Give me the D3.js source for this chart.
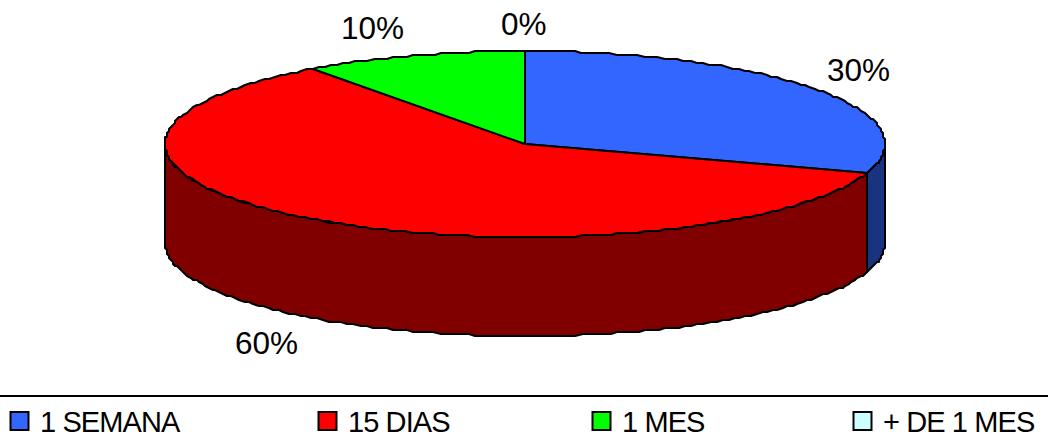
<!DOCTYPE html>
<html>
<head>
<meta charset="utf-8">
<script src="https://cdn.jsdelivr.net/npm/d3@7/dist/d3.min.js"></script>
<style>
html,body{margin:0;padding:0;background:#fff;overflow:hidden}
text{font-family:"Liberation Sans",Arial,sans-serif;fill:#000}
</style>
</head>
<body>
<svg id="chart" width="1048" height="434"></svg>
<script>
const categories = ["1 SEMANA", "15 DIAS", "1 MES", "+ DE 1 MES"];
const shares = [30, 60, 10, 0];
const topColors = ["#3366ff", "#ff0000", "#00ff00", "#ccffff"];
const sideColors = ["#1a3380", "#800000", "#008000", "#668080"];
const legendSwatchX = [10, 318, 592, 853];
const labelAnchors = [[827, 81], [235, 354], [341, 39], [501, 35]];

const cx = 525, cy = 144, rx = 360, ry = 93, depth = 99;
const svg = d3.select("#chart");

const pie = d3.pie().value(d => d).sort(null);
const arcs = pie(shares);

// Tilted disc: angle 0 is at twelve o'clock and grows clockwise.
const px = a => cx + rx * Math.sin(a);
const py = a => cy - ry * Math.cos(a);
const snap = v => Math.round((v - 1) / 2) * 2 + 1;

// Points along the rim, snapped to a coarse grid for the stepped edge of the plot.
function rim(a0, a1) {
  const n = Math.max(1, Math.ceil(Math.abs(a1 - a0) / 0.02));
  return d3.range(n + 1).map(i => {
    const a = a0 + (a1 - a0) * i / n;
    return [snap(px(a)), snap(py(a))];
  });
}
const line = d3.line();
const HALF = Math.PI / 2;

// Side wall: only the front half of the disc, from 90deg round to 270deg.
const walls = arcs.map((d, i) => {
  const a0 = Math.max(d.startAngle, HALF), a1 = Math.min(d.endAngle, 3 * HALF);
  if (a1 <= a0) return null;
  const upper = rim(a0, a1);
  const lower = upper.slice().reverse().map(p => [p[0], p[1] + depth]);
  return {i, points: upper.concat(lower)};
}).filter(Boolean);

svg.append("g").selectAll("path").data(walls).join("path")
  .attr("d", d => line(d.points) + "Z")
  .attr("fill", d => sideColors[d.i])
  .attr("stroke", "#000").attr("stroke-width", 2).attr("stroke-linejoin", "round");

svg.append("g").selectAll("path").data(arcs).join("path")
  .attr("d", d => line([[cx, cy]].concat(rim(d.startAngle, d.endAngle))) + "Z")
  .attr("fill", (d, i) => topColors[i])
  .attr("stroke", "#000").attr("stroke-width", 2).attr("stroke-linejoin", "round");

svg.append("g").selectAll("text").data(shares).join("text")
  .attr("x", (d, i) => labelAnchors[i][0])
  .attr("y", (d, i) => labelAnchors[i][1])
  .attr("font-size", 31.5)
  .text(d => d + "%");

// Legend strip
svg.append("line").attr("x1", 0).attr("x2", 1048).attr("y1", 396).attr("y2", 396)
  .attr("stroke", "#000").attr("stroke-width", 2);

const legend = svg.append("g").selectAll("g").data(categories).join("g")
  .attr("transform", (d, i) => `translate(${legendSwatchX[i]},0)`);
legend.append("rect")
  .attr("x", 0.5).attr("y", 412).attr("width", 18).attr("height", 18)
  .attr("fill", (d, i) => topColors[i])
  .attr("stroke", "#000").attr("stroke-width", 2);
legend.append("text")
  .attr("x", 30).attr("y", 432)
  .attr("font-size", 29)
  .attr("letter-spacing", -0.9)
  .text(d => d);
</script>
</body>
</html>
